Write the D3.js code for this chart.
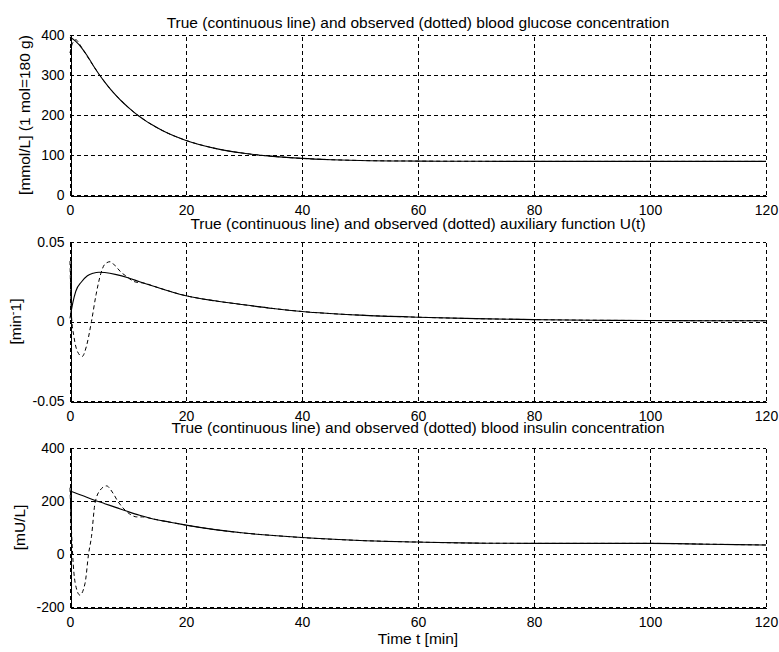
<!DOCTYPE html>
<html><head><meta charset="utf-8">
<script src="https://cdn.jsdelivr.net/npm/d3@7"></script>
<style>body{margin:0;background:#fff}svg{display:block}</style>
</head><body>
<svg id="c" width="779" height="652"></svg>
<script>
// ---------- data ----------
const xTicks = [0, 20, 40, 60, 80, 100, 120];
const glucoseTicks = [0, 100, 200, 300, 400];
const uTicks = [-0.05, 0, 0.05];
const insulinTicks = [-200, 0, 200, 400];
const titles = [
  "True (continuous line) and observed (dotted) blood glucose concentration",
  "True (continuous line) and observed (dotted) auxiliary function U(t)",
  "True (continuous line) and observed (dotted) blood insulin concentration"
];
const xLabel = "Time t [min]";

const glucoseTrue = [[0,395],[1,384],[2,368],[3,347.6],[4,323.7],[5,302],[6,282.3],[7,264.2],[8,248],[9,233.1],[10,219.6],[11,207.3],[12,196.1],[13,186],[14,176.7],[16,160.7],[18,147.4],[20,136.5],[25,116.6],[30,104.3],[35,96.6],[40,91.5],[45,88.3],[50,86.3],[60,84.8],[70,84.2],[80,84],[100,84],[120,84]];
const glucoseObs = [[0,355],[0.4,378],[1,388],[2,369],[3,346],[4,323.7],[5,302],[6,282.3],[7,264.2],[8,248],[9,233.1],[10,219.6],[11,207.3],[12,196.1],[13,186],[14,176.7],[16,160.7],[18,147.4],[20,136.5],[25,116.6],[30,104.3],[35,96.6],[40,91.5],[45,88.3],[50,86.3],[60,84.8],[70,84.2],[80,84],[100,84],[120,84]];

const uTrue = [[0,0.002],[0.5,0.012],[1,0.019],[2,0.025],[3,0.0288],[4,0.0304],[5,0.031],[6,0.0308],[8,0.0295],[10,0.0275],[12,0.025],[15,0.0215],[20,0.0162],[25,0.013],[30,0.0105],[35,0.0082],[40,0.0063],[50,0.004],[60,0.0027],[70,0.0018],[80,0.0012],[90,0.0008],[100,0.0006],[110,0.0005],[120,0.0005]];
const uObs = [[0,0.038],[0.25,0.004],[0.7,-0.010],[1.3,-0.019],[2.1,-0.022],[2.8,-0.016],[3.7,0],[4.5,0.017],[5.3,0.030],[6,0.036],[6.9,0.0376],[7.8,0.035],[8.8,0.031],[9.8,0.0282],[10.8,0.0255],[11.8,0.0245],[12.5,0.0243],[15,0.0215],[20,0.0162],[25,0.013],[30,0.0105],[35,0.0082],[40,0.0063],[50,0.004],[60,0.0027],[70,0.0018],[80,0.0012],[90,0.0008],[100,0.0006],[110,0.0005],[120,0.0005]];

const insulinTrue = [[0,238],[2,222],[4,205],[6,190],[8,175],[10,160],[12,146],[14,134],[16,125],[18,117],[20,109],[25,92],[30,79],[35,70],[40,62],[50,51],[60,45],[70,41],[80,40],[90,40],[100,40],[110,37],[120,34]];
const insulinObs = [[0,250],[0.2,120],[0.45,0],[0.9,-110],[1.7,-155],[2.6,-110],[3.2,0],[3.7,65],[4.3,190],[5.2,241],[6.3,257],[7.4,230],[8.3,197],[9.3,170],[10.5,148],[11.5,140],[12.5,140],[14,134],[16,125],[18,117],[20,109],[25,92],[30,79],[35,70],[40,62],[50,51],[60,45],[70,41],[80,40],[90,40],[100,40],[110,37],[120,34]];

// ---------- layout ----------
const FONT = "'Liberation Sans', Arial, sans-serif";
const left = 70, right = 766;
const panels = [
  {top: 35, bottom: 195, domain: [0, 400], ticks: glucoseTicks, fmt: d => String(d), tru: glucoseTrue, obs: glucoseObs, title: titles[0], titleY: 28, ylabel: "glucose"},
  {top: 242, bottom: 401, domain: [-0.05, 0.05], ticks: uTicks, fmt: d => d === 0 ? "0" : d.toFixed(2), tru: uTrue, obs: uObs, title: titles[1], titleY: 229, ylabel: "u"},
  {top: 448, bottom: 607, domain: [-200, 400], ticks: insulinTicks, fmt: d => String(d), tru: insulinTrue, obs: insulinObs, title: titles[2], titleY: 433, ylabel: "insulin"}
];

const svg = d3.select("#c");
svg.append("rect").attr("width", 779).attr("height", 652).attr("fill", "#fff");

panels.forEach((p, i) => {
  const x = d3.scaleLinear().domain([0, 120]).range([left, right]);
  const y = d3.scaleLinear().domain(p.domain).range([p.bottom, p.top]);
  const g = svg.append("g");

  // grid
  const grid = g.append("g").attr("stroke", "#000").attr("stroke-width", 1)
    .attr("stroke-dasharray", "4,3").attr("shape-rendering", "crispEdges");
  grid.selectAll("line.v").data(xTicks).join("line")
    .attr("x1", d => Math.round(x(d)) + 0.5).attr("x2", d => Math.round(x(d)) + 0.5)
    .attr("y1", p.bottom).attr("y2", p.top);
  grid.selectAll("line.h").data(p.ticks).join("line")
    .attr("y1", d => Math.round(y(d)) + 0.5).attr("y2", d => Math.round(y(d)) + 0.5)
    .attr("x1", left).attr("x2", right);

  // curves
  const line = d3.line().x(d => x(d[0])).y(d => y(d[1])).curve(d3.curveMonotoneX);
  g.append("path").datum(p.tru).attr("d", line).attr("fill", "none")
    .attr("stroke", "#000").attr("stroke-width", 1.1);
  g.append("path").datum(p.obs).attr("d", line).attr("fill", "none")
    .attr("stroke", "#000").attr("stroke-width", 1).attr("stroke-dasharray", "4,3");

  // axes
  const xa = g.append("g").attr("transform", `translate(0,${p.bottom + 0.5})`)
    .call(d3.axisBottom(x).tickValues(xTicks).tickFormat(d => String(d)).tickSize(0).tickSizeOuter(0).tickPadding(10));
  const ya = g.append("g").attr("transform", `translate(${left + 0.5},0)`)
    .call(d3.axisLeft(y).tickValues(p.ticks).tickFormat(p.fmt).tickSize(0).tickSizeOuter(0).tickPadding(6));
  [xa, ya].forEach(a => {
    a.attr("font-family", FONT).attr("font-size", 14);
    a.select(".domain").attr("stroke", "#000").attr("shape-rendering", "crispEdges");
    a.selectAll("text").attr("fill", "#000");
  });

  // title
  svg.append("text").attr("x", (left + right) / 2).attr("y", p.titleY)
    .attr("text-anchor", "middle").attr("font-family", FONT).attr("font-size", 15.5)
    .attr("fill", "#000").text(p.title);

  // y label
  let minX = left;
  ya.selectAll(".tick text").each(function() {
    const w = this.getComputedTextLength();
    minX = Math.min(minX, left - 6 - w);
  });
  const cy = (p.top + p.bottom) / 2;
  const yl = svg.append("text").attr("transform", `translate(${minX - 11},${cy}) rotate(-90)`)
    .attr("text-anchor", "middle").attr("font-family", FONT).attr("font-size", 15.5).attr("fill", "#000");
  if (p.ylabel === "glucose") yl.text("[mmol/L] (1 mol=180 g)");
  else if (p.ylabel === "insulin") yl.text("[mU/L]");
  else {
    yl.append("tspan").text("[min");
    yl.append("tspan").attr("dy", -5).attr("font-size", 11).text("-");
    yl.append("tspan").attr("dy", 5).text("1]");
  }
});

svg.append("text").attr("x", (left + right) / 2).attr("y", 644)
  .attr("text-anchor", "middle").attr("font-family", FONT).attr("font-size", 15.5)
  .attr("fill", "#000").text(xLabel);
</script>
</body></html>
